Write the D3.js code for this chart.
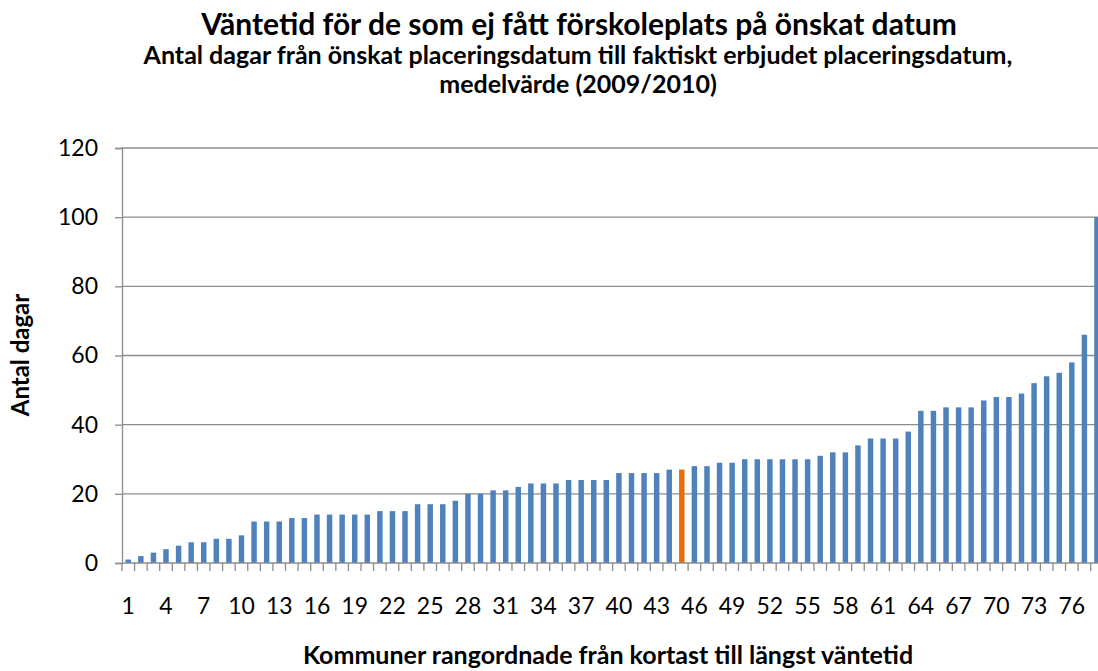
<!DOCTYPE html>
<html>
<head>
<meta charset="utf-8">
<script src="https://cdn.jsdelivr.net/npm/d3@7"></script>
<style>
  body { margin: 0; background: #fff; }
  svg { display: block; font-family: Lato, "Open Sans", sans-serif; }
</style>
</head>
<body>
<div id="chart"></div>
<script>
const waitDays = [
  1, 2, 3, 4, 5, 6, 6, 7, 7, 8,
  12, 12, 12, 13, 13, 14, 14, 14, 14, 14,
  15, 15, 15, 17, 17, 17, 18, 20, 20, 21,
  21, 22, 23, 23, 23, 24, 24, 24, 24, 26,
  26, 26, 26, 27, 27, 28, 28, 29, 29, 30,
  30, 30, 30, 30, 30, 31, 32, 32, 34, 36,
  36, 36, 38, 44, 44, 45, 45, 45, 47, 48,
  48, 49, 52, 54, 55, 58, 66, 100
];
const municipalities = waitDays.map((d, i) => i + 1);
const highlighted = [45];
const yTicks = [0, 20, 40, 60, 80, 100, 120];

const width = 1098, height = 671;
const margin = { left: 122, top: 148, bottom: 563 };
const step = 12.58;

const svg = d3.select('#chart')
  .append('svg')
  .attr('width', width)
  .attr('height', height);

const x = d3.scaleBand()
  .domain(municipalities)
  .range([margin.left, margin.left + step * municipalities.length])
  .paddingInner(0.565)
  .paddingOuter(0.28);

const y = d3.scaleLinear()
  .domain([0, 120])
  .range([margin.bottom, margin.top]);

// gridlines
svg.append('g')
  .selectAll('line')
  .data(yTicks.slice(1))
  .join('line')
  .attr('x1', margin.left)
  .attr('x2', width)
  .attr('y1', d => y(d))
  .attr('y2', d => y(d))
  .attr('stroke', '#8c8c8c')
  .attr('stroke-width', 1.3);

// bars
svg.append('g')
  .selectAll('rect')
  .data(waitDays)
  .join('rect')
  .attr('x', (d, i) => x(municipalities[i]))
  .attr('y', d => y(d))
  .attr('width', x.bandwidth())
  .attr('height', d => y(0) - y(d))
  .attr('fill', (d, i) => highlighted.includes(municipalities[i]) ? '#e46c0a' : '#4f81bd');

// y axis
const yAxis = svg.append('g')
  .attr('transform', `translate(${margin.left},0)`)
  .call(d3.axisLeft(y).tickValues(yTicks).tickSize(7).tickPadding(17));
yAxis.select('.domain').attr('stroke', '#8c8c8c').attr('stroke-width', 1.3);
yAxis.selectAll('.tick line').attr('stroke', '#8c8c8c').attr('stroke-width', 1.3);
yAxis.selectAll('.tick text')
  .attr('font-size', 23)
  .attr('font-family', 'Lato, sans-serif')
  .attr('fill', '#000');

// x axis: tick marks between categories, labels every third
const xAxisG = svg.append('g');
xAxisG.append('line')
  .attr('x1', margin.left)
  .attr('x2', width)
  .attr('y1', y(0))
  .attr('y2', y(0))
  .attr('stroke', '#8c8c8c')
  .attr('stroke-width', 1.3);
xAxisG.selectAll('.sep')
  .data(municipalities)
  .join('line')
  .attr('class', 'sep')
  .attr('x1', d => x(d) - x.step() * x.paddingInner() / 2)
  .attr('x2', d => x(d) - x.step() * x.paddingInner() / 2)
  .attr('y1', y(0))
  .attr('y2', y(0) + 8)
  .attr('stroke', '#8c8c8c')
  .attr('stroke-width', 1.3);
xAxisG.selectAll('text')
  .data(municipalities.filter(d => (d - 1) % 3 === 0))
  .join('text')
  .attr('x', d => x(d) + x.bandwidth() / 2)
  .attr('y', 614)
  .attr('text-anchor', 'middle')
  .attr('font-size', 23)
  .text(d => d);

// titles
svg.append('text')
  .attr('x', 579)
  .attr('y', 35)
  .attr('text-anchor', 'middle')
  .attr('font-size', 30)
  .attr('font-weight', 'bold')
  .text('Väntetid för de som ej fått förskoleplats på önskat datum');

svg.append('text')
  .attr('x', 578)
  .attr('y', 64)
  .attr('text-anchor', 'middle')
  .attr('font-size', 25)
  .attr('font-weight', 'bold')
  .text('Antal dagar från önskat placeringsdatum till faktiskt erbjudet placeringsdatum,');

svg.append('text')
  .attr('x', 578)
  .attr('y', 93)
  .attr('text-anchor', 'middle')
  .attr('font-size', 25)
  .attr('font-weight', 'bold')
  .text('medelvärde (2009/2010)');

svg.append('text')
  .attr('transform', 'translate(29,355) rotate(-90)')
  .attr('text-anchor', 'middle')
  .attr('font-size', 24)
  .attr('font-weight', 'bold')
  .text('Antal dagar');

svg.append('text')
  .attr('x', 608)
  .attr('y', 664)
  .attr('text-anchor', 'middle')
  .attr('font-size', 25)
  .attr('font-weight', 'bold')
  .text('Kommuner rangordnade från kortast till längst väntetid');
</script>
</body>
</html>
